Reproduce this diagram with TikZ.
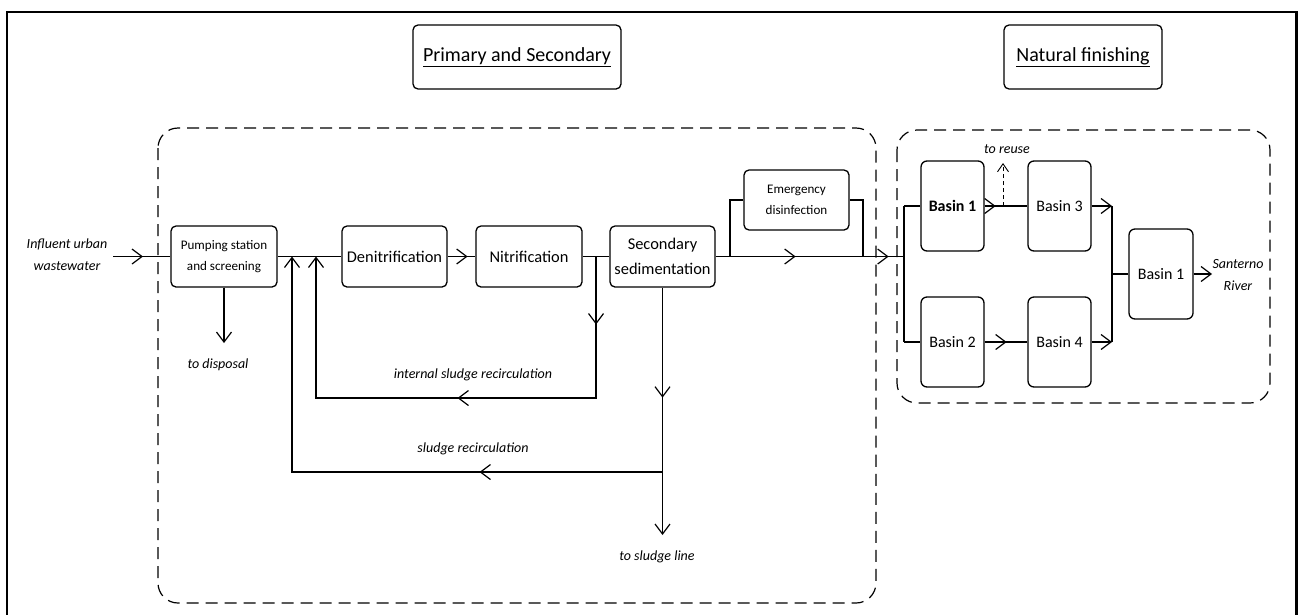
\documentclass[tikz,border=0pt]{standalone}
\usepackage{fontspec}
\setmainfont{Carlito}
\usetikzlibrary{arrows.meta,decorations.markings}
\tikzset{
  barb/.tip={Straight Barb[length=10pt,width=15pt,line width=1.2pt]},
  flow/.style={line width=1.2pt},
  boxA/.style={draw,line width=1.3pt,rounded corners=5pt,inner sep=0pt,align=center,
     font=\fontsize{16.4}{25}\selectfont},
  boxS/.style={draw,line width=1.3pt,rounded corners=5pt,inner sep=0pt,align=center,
     font=\fontsize{13.1}{20.5}\selectfont},
  basin/.style={draw,line width=1.3pt,rounded corners=6pt,inner sep=0pt,align=center,
     minimum width=63pt,minimum height=90pt,font=\fontsize{16}{20}\selectfont},
  titlebox/.style={draw,line width=1.3pt,rounded corners=5pt,inner sep=0pt,
     minimum height=64pt,font=\fontsize{20}{24}\selectfont},
  lbl/.style={inner sep=0pt,align=center,font=\fontsize{14}{22}\selectfont\itshape},
  region/.style={draw,line width=1.2pt,dash pattern=on 12pt off 7pt,rounded corners=20pt},
  midarr/.style={postaction={decorate},decoration={markings,
     mark=at position #1 with {\arrow{barb}}}},
  midarrtwo/.style 2 args={postaction={decorate},decoration={markings,
     mark=at position #1 with {\arrow{barb}},
     mark=at position #2 with {\arrow{barb}}}},
}
\begin{document}
\begin{tikzpicture}[x=1pt,y=-1pt]
\useasboundingbox (0,0) rectangle (1298,614);
% outer frame
\draw[line width=2.4pt] (7,700) -- (7,12) -- (1296.5,12) -- (1296.5,700);

% regions
\draw[region] (158,128) rectangle (876,603);
\draw[region] (897,130) rectangle (1270,403);

% titles
\node[titlebox,minimum width=208pt] (t1) at (517,57) {\underline{Primary and Secondary}};
\node[titlebox,minimum width=158pt] (t2) at (1083,57) {\underline{Natural finishing}};

% process boxes
\node[boxS,minimum width=106pt,minimum height=61pt] (pump) at (224,256.5) {Pumping station\\and screening};
\node[boxA,minimum width=105pt,minimum height=61pt] (denit) at (394.5,256.5) {Denitrification};
\node[boxA,minimum width=106pt,minimum height=61pt] (nit) at (529,256.5) {Nitrification};
\node[boxA,minimum width=105pt,minimum height=61pt] (sec) at (662.5,256.5) {Secondary\\sedimentation};
\node[boxS,minimum width=105pt,minimum height=60pt] (emer) at (796.5,200) {Emergency\\disinfection};

% basins
\node[basin] (b1) at (952.5,206) {\bfseries Basin 1};
\node[basin] (b2) at (952.5,342) {Basin 2};
\node[basin] (b3) at (1059.5,206) {Basin 3};
\node[basin] (b4) at (1059.5,342) {Basin 4};
\node[basin,minimum width=64pt] (b5) at (1161,274) {Basin 1};

% labels
\node[lbl] (infl) at (67,255) {Influent urban\\wastewater};
\node[lbl] (disp) at (218,365) {to disposal};
\node[lbl] (isr) at (473,375) {internal sludge recirculation};
\node[lbl] (sr) at (473,449) {sludge recirculation};
\node[lbl] (sline) at (657,557) {to sludge line};
\node[lbl] (reuse) at (1007,149) {to reuse};
\node[lbl] (river) at (1238,275) {Santerno\\River};

% coordinates
\coordinate (in0) at (113,256.5);
\coordinate (dend) at (224,343);
\coordinate (r1) at (292,256.5);
\coordinate (r2) at (316,256.5);
\coordinate (ib) at (596,256.5);
\coordinate (ibd) at (596,398);
\coordinate (ibl) at (316,398);
\coordinate (sj) at (662.5,472);
\coordinate (sl) at (292,472);
\coordinate (send) at (662.5,535);
\coordinate (split) at (904,256.5);
\coordinate (byl) at (730,256.5);
\coordinate (bylu) at (730,200);
\coordinate (byr) at (863,256.5);
\coordinate (byru) at (863,200);
\coordinate (s1) at (904,206);
\coordinate (s2) at (904,342);
\coordinate (reu0) at (1003,206);
\coordinate (reu1) at (1003,163);
\coordinate (m1) at (1112,206);
\coordinate (m2) at (1112,342);
\coordinate (mm) at (1112,274);
\coordinate (out) at (1212,274);

% main flow
\draw[flow,midarr=30pt] (in0) -- (pump.west);
\draw[flow,-barb] (pump.south) -- (dend);
\draw[flow] (pump.east) -- (denit.west);
\draw[flow,midarr=20pt] (denit.east) -- (nit.west);
\draw[flow] (nit.east) -- (sec.west);
\draw[flow,midarrtwo={80pt}{173pt}] (sec.east) -- (split);
% bypass
\draw[flow] (byl) -- (bylu) -- (emer.west);
\draw[flow] (emer.east) -- (byru) -- (byr);
% internal recirculation
\draw[flow,midarrtwo={68pt}{280pt},-barb] (ib) -- (ibd) -- (ibl) -- (r2);
% sludge
\draw[flow,midarr=110pt,-barb] (sec.south) -- (send);
\draw[flow,midarr=183pt,-barb] (sj) -- (sl) -- (r1);

% natural finishing
\draw[flow] (s1) -- (s2);
\draw[flow] (s1) -- (b1.west);
\draw[flow] (s2) -- (b2.west);
\draw[flow,midarr=11pt] (b1.east) -- (b3.west);
\draw[line width=0.9pt,dash pattern=on 4pt off 3pt,-{Straight Barb[length=8pt,width=11pt,line width=0.9pt]}] (reu0) -- (reu1);
\draw[flow,midarr=22pt] (b2.east) -- (b4.west);
\draw[flow,-barb] (b3.east) -- (m1);
\draw[flow,-barb] (b4.east) -- (m2);
\draw[flow] (m1) -- (m2);
\draw[flow] (mm) -- (b5.west);
\draw[flow,-barb] (b5.east) -- (out);
\end{tikzpicture}
\end{document}
